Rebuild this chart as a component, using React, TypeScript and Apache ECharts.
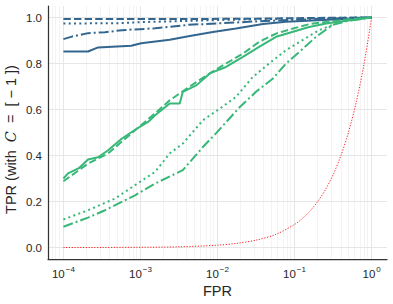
import React, { useEffect, useRef } from "react";
import * as echarts from "echarts";

// x values are log10(FPR), y values are TPR
const xTickExponents = [-4, -3, -2, -1, 0];
const yTicks = [0, 0.2, 0.4, 0.6, 0.8, 1.0];
const minorDecades = [-5, -4, -3, -2, -1, 0];
const minorMultipliers = [2, 3, 4, 5, 6, 7, 8, 9];

const blueSolidX = [-4, -3.68, -3.55, -3.12, -2.99, -2.62, -2.36, -2.06, -1.76, -1.41, -1.11, -0.7, -0.3, 0];
const blueSolidY = [0.852, 0.852, 0.87, 0.877, 0.888, 0.903, 0.92, 0.937, 0.952, 0.972, 0.981, 0.988, 0.995, 1.0];

const blueDashedX = [-4, -2.5, -1.5, -1, -0.5, 0];
const blueDashedY = [0.993, 0.993, 0.995, 0.997, 0.999, 1.0];

const blueDottedX = [-4, -3.3, -3.0, -2.4, -1.9, -1.2, -0.5, 0];
const blueDottedY = [0.974, 0.975, 0.98, 0.985, 0.99, 0.994, 0.998, 1.0];

const blueDashDotX = [-4, -3.89, -3.68, -3.46, -3.24, -2.81, -2.38, -1.95, -1.5, -1.0, -0.5, 0];
const blueDashDotY = [0.906, 0.917, 0.932, 0.936, 0.945, 0.953, 0.968, 0.975, 0.983, 0.99, 0.996, 1.0];

const greenSolidX = [-4, -3.94, -3.8, -3.68, -3.55, -3.42, -3.24, -3.07, -2.9, -2.81, -2.62, -2.49, -2.45, -2.27, -2.1, -1.89, -1.67, -1.46, -1.24, -1.02, -0.81, -0.59, -0.38, 0];
const greenSolidY = [0.3, 0.322, 0.345, 0.383, 0.392, 0.423, 0.474, 0.512, 0.546, 0.575, 0.626, 0.626, 0.677, 0.706, 0.757, 0.785, 0.829, 0.872, 0.916, 0.938, 0.959, 0.974, 0.984, 1.0];

const greenDashedX = [-4, -3.68, -3.42, -3.07, -2.81, -2.62, -2.4, -2.1, -1.89, -1.67, -1.46, -1.24, -1.02, -0.81, -0.59, -0.3, 0];
const greenDashedY = [0.288, 0.365, 0.409, 0.51, 0.583, 0.64, 0.691, 0.757, 0.8, 0.843, 0.894, 0.93, 0.952, 0.971, 0.981, 0.992, 1.0];

const greenDottedX = [-4, -3.68, -3.33, -3.07, -2.81, -2.62, -2.45, -2.19, -1.97, -1.76, -1.54, -1.33, -1.11, -0.9, -0.68, -0.46, -0.25, 0];
const greenDottedY = [0.122, 0.162, 0.213, 0.271, 0.329, 0.409, 0.452, 0.553, 0.604, 0.655, 0.742, 0.8, 0.858, 0.901, 0.945, 0.974, 0.992, 1.0];

const greenDashDotX = [-4, -3.68, -3.46, -3.07, -2.81, -2.45, -2.19, -2.02, -1.71, -1.5, -1.28, -1.11, -0.94, -0.72, -0.51, -0.33, 0];
const greenDashDotY = [0.09, 0.13, 0.162, 0.227, 0.278, 0.336, 0.437, 0.496, 0.611, 0.677, 0.735, 0.8, 0.85, 0.916, 0.967, 0.984, 1.0];

const chanceX = [-4, -3.5, -3, -2.5, -2, -1.75, -1.5, -1.25, -1, -0.9, -0.8, -0.7, -0.6, -0.5, -0.4, -0.3, -0.2, -0.1, 0];
const chanceY = [0.0001, 0.0003, 0.001, 0.003, 0.01, 0.018, 0.032, 0.056, 0.1, 0.126, 0.158, 0.2, 0.251, 0.316, 0.398, 0.501, 0.631, 0.794, 1.0];

const BLUE = "#33668f";
const GREEN = "#38b878";
const X_MIN = -4.2;
const X_MAX = 0.2;

const zip = (xs: number[], ys: number[]) => xs.map((x, i) => [x, ys[i]]);

const DASHED = [7.4, 3.2];
const DOTTED = [2, 3.3];
const DASHDOT = [10, 3, 2, 3];

function lineSeries(name: string, xs: number[], ys: number[], color: string, type: any, width = 2) {
  return {
    name,
    type: "line",
    data: zip(xs, ys),
    showSymbol: false,
    symbol: "none",
    z: 3,
    lineStyle: { color, width, type, cap: "butt" },
    emphasis: { disabled: true },
  };
}

export default function App() {
  const ref = useRef<HTMLDivElement>(null);
  useEffect(() => {
    if (!ref.current) return;
    const chart = echarts.init(ref.current, undefined, { renderer: "svg" });

    const minorX: number[] = [];
    minorDecades.forEach((d) =>
      minorMultipliers.forEach((m) => {
        const v = d + Math.log10(m);
        if (v > X_MIN && v < X_MAX) minorX.push(v);
      })
    );

    const gridData: any[] = [
      ...minorX.map((v) => ({ xAxis: v, lineStyle: { color: "#f0f0f0", width: 0.8, type: "solid" } })),
      ...xTickExponents.map((v) => ({ xAxis: v, lineStyle: { color: "#e6e6e6", width: 1, type: "solid" } })),
      ...yTicks.map((v) => ({ yAxis: v, lineStyle: { color: "#e6e6e6", width: 1, type: "solid" } })),
    ];

    const font = "Liberation Sans, Arial, sans-serif";

    chart.setOption({
      animation: false,
      backgroundColor: "#ffffff",
      grid: { left: 48, right: 6, top: 6, bottom: 45, containLabel: false, outerBoundsMode: "none" },
      xAxis: {
        type: "value",
        min: X_MIN,
        max: X_MAX,
        name: "FPR",
        nameLocation: "middle",
        nameGap: 24,
        nameMoveOverlap: false,
        nameTextStyle: { fontFamily: font, fontSize: 14.5, color: "#262626" },
        axisLine: { show: true, onZero: false, lineStyle: { color: "#333333", width: 1.25 } },
        axisTick: { show: false },
        splitLine: { show: false },
        axisLabel: {
          customValues: xTickExponents,
          margin: 6,
          fontFamily: font,
          color: "#262626",
          formatter: (v: number) => `{b|10}{s|${v === 0 ? "0" : "\u2212" + Math.abs(v)}}`,
          rich: {
            b: { fontFamily: font, fontSize: 11.5, lineHeight: 18, color: "#262626" },
            s: { fontFamily: font, fontSize: 8, lineHeight: 8, verticalAlign: "top", color: "#262626", padding: [0, 0, 0, 1] },
          },
        },
      },
      yAxis: {
        type: "value",
        min: -0.05,
        max: 1.05,
        name: "{a|TPR (with  }{i|C}{a|  =  [ \u2212 1 ])}",
        nameLocation: "middle",
        nameGap: 30,
        nameRotate: 90,
        nameMoveOverlap: false,
        nameTextStyle: {
          fontFamily: font,
          fontSize: 14.5,
          color: "#262626",
          padding: [0, 14, 0, 0],
          rich: {
            a: { fontFamily: font, fontSize: 14.5, color: "#262626" },
            i: { fontFamily: "DejaVu Serif, serif", fontStyle: "italic", fontSize: 14.5, color: "#262626" },
          },
        },
        axisLine: { show: true, onZero: false, lineStyle: { color: "#333333", width: 1.25 } },
        axisTick: { show: false },
        splitLine: { show: false },
        axisLabel: {
          customValues: yTicks,
          margin: 6,
          fontFamily: font,
          fontSize: 11.5,
          color: "#262626",
          formatter: (v: number) => v.toFixed(1),
        },
      },
      series: [
        {
          type: "line",
          data: [],
          silent: true,
          z: 0,
          markLine: {
            silent: true,
            z: 0,
            symbol: ["none", "none"],
            label: { show: false },
            emphasis: { disabled: true },
            animation: false,
            data: gridData,
          },
        },
        lineSeries("blue solid", blueSolidX, blueSolidY, BLUE, "solid"),
        lineSeries("blue dashed", blueDashedX, blueDashedY, BLUE, DASHED),
        lineSeries("blue dotted", blueDottedX, blueDottedY, BLUE, DOTTED),
        lineSeries("blue dashdot", blueDashDotX, blueDashDotY, BLUE, DASHDOT),
        lineSeries("green solid", greenSolidX, greenSolidY, GREEN, "solid"),
        lineSeries("green dashed", greenDashedX, greenDashedY, GREEN, DASHED),
        lineSeries("green dotted", greenDottedX, greenDottedY, GREEN, DOTTED),
        lineSeries("green dashdot", greenDashDotX, greenDashDotY, GREEN, DASHDOT),
        { ...lineSeries("chance", chanceX, chanceY, "#ff2020", [1.2, 1.6], 1), smooth: 0.3 },
      ],
    });
    return () => chart.dispose();
  }, []);
  return <div ref={ref} style={{ position: "fixed", left: 0, top: 0, width: 393, height: 304 }} />;
}
